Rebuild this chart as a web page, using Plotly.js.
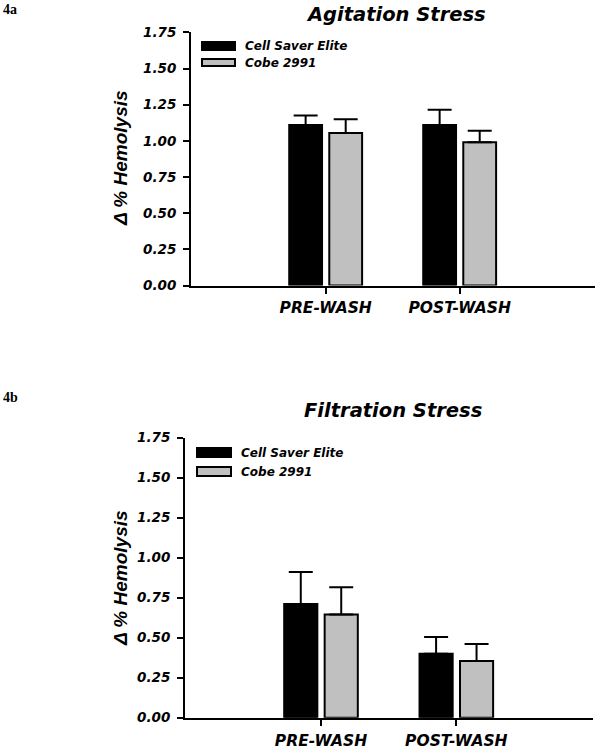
<!DOCTYPE html>
<html>
<head>
<meta charset="utf-8">
<script src="https://cdn.plot.ly/plotly-3.0.1.min.js"></script>
<style>html,body{margin:0;padding:0;background:#fff;}#chart{width:597px;height:750px;}</style>
</head>
<body>
<div id="chart"></div>
<script>
// ---- data ----
const categories = ['PRE-WASH', 'POST-WASH'];
const seriesNames = ['Cell Saver Elite', 'Cobe 2991'];
const panelLabels = ['4a', '4b'];
const panelTitles = ['Agitation Stress', 'Filtration Stress'];
const yAxisTitle = '\u0394 % Hemolysis';
const yTickValues = [0, 0.25, 0.5, 0.75, 1.0, 1.25, 1.5, 1.75];

const agitationCSE = [1.11, 1.11];
const agitationCSEErr = [0.065, 0.105];
const agitationCobe = [1.055, 0.99];
const agitationCobeErr = [0.095, 0.08];

const filtrationCSE = [0.71, 0.40];
const filtrationCSEErr = [0.20, 0.105];
const filtrationCobe = [0.645, 0.355];
const filtrationCobeErr = [0.17, 0.105];

// ---- style ----
const W = 597, H = 750;
const px = x => x / W;
const py = y => 1 - y / H;
const colors = ['#000000', '#c0c0c0'];
const sansB = {family: 'DejaVu Sans', weight: 'bold', style: 'italic', color: '#000'};
const font = (size, base) => Object.assign({}, base || sansB, {size: size});

function barTrace(vals, errs, idx, xa, ya) {
  return {
    type: 'bar', x: categories, y: vals, name: seriesNames[idx],
    xaxis: xa, yaxis: ya, showlegend: false,
    width: 0.245, offset: idx === 0 ? -0.272 : 0.027,
    marker: {color: colors[idx], line: {color: '#000', width: 2}},
    error_y: {type: 'data', symmetric: false, array: errs, arrayminus: errs.map(() => 0),
              color: '#000', thickness: 2, width: 12},
    hoverinfo: 'skip'
  };
}

const data = [
  barTrace(agitationCSE, agitationCSEErr, 0, 'x', 'y'),
  barTrace(agitationCobe, agitationCobeErr, 1, 'x', 'y'),
  barTrace(filtrationCSE, filtrationCSEErr, 0, 'x2', 'y2'),
  barTrace(filtrationCobe, filtrationCobeErr, 1, 'x2', 'y2')
];

function xAxis(domain, anchor, standoff) {
  return {
    domain: domain, anchor: anchor, type: 'category', range: [-1.005, 2.01],
    showline: true, linecolor: '#000', linewidth: 2, showgrid: false, zeroline: false,
    ticks: 'outside', ticklen: 6, tickwidth: 2, tickcolor: '#000',
    tickfont: font(15.5), ticklabelstandoff: standoff, fixedrange: true
  };
}
function yAxis(domain, anchor) {
  return {
    domain: domain, anchor: anchor, range: [0, 1.75],
    tickvals: yTickValues, tickformat: '.2f',
    showline: true, linecolor: '#000', linewidth: 2, showgrid: false, zeroline: false,
    ticks: 'outside', ticklen: 6, tickwidth: 2, tickcolor: '#000',
    tickfont: font(13.5), ticklabelstandoff: 4, fixedrange: true
  };
}

const annotations = [];
const shapes = [];
function panelDecor(p, labelY, titleX, titleY, yTitleX, yTitleY, legX0, legX1, legRows, legTextX) {
  annotations.push({xref: 'paper', yref: 'paper', x: px(1), y: py(labelY), xanchor: 'left', yanchor: 'middle',
    text: panelLabels[p], showarrow: false, font: {family: 'Liberation Serif', size: 14, weight: 'bold', color: '#000'}});
  annotations.push({xref: 'paper', yref: 'paper', x: px(titleX), y: py(titleY), xanchor: 'center', yanchor: 'middle',
    text: panelTitles[p], showarrow: false, font: font(19.5)});
  annotations.push({xref: 'paper', yref: 'paper', x: px(yTitleX), y: py(yTitleY), xanchor: 'center', yanchor: 'middle',
    textangle: -90, text: yAxisTitle, showarrow: false,
    font: {family: 'Liberation Sans', size: 19, weight: 'bold', style: 'italic', color: '#000'}});
  legRows.forEach((r, i) => {
    shapes.push({type: 'rect', xref: 'paper', yref: 'paper', x0: px(legX0), x1: px(legX1), y0: py(r[0]), y1: py(r[1]),
      fillcolor: colors[i], line: {color: '#000', width: 2}});
    annotations.push({xref: 'paper', yref: 'paper', x: px(legTextX), y: py((r[0] + r[1]) / 2), xanchor: 'left', yanchor: 'middle',
      text: seriesNames[i], showarrow: false, font: font(12)});
  });
}
panelDecor(0, 9, 396, 14, 120, 158, 202, 235, [[42, 50], [59, 66]], 243);
panelDecor(1, 397, 393, 410, 120, 578, 197, 231, [[448, 457], [467, 476]], 239);

const layout = {
  width: W, height: H, margin: {l: 0, r: 0, t: 0, b: 0},
  paper_bgcolor: '#fff', plot_bgcolor: '#fff', barmode: 'overlay', showlegend: false,
  xaxis: xAxis([px(191), px(595)], 'y', 1),
  yaxis: yAxis([py(285.5), py(32.4)], 'x'),
  xaxis2: xAxis([px(185), px(593)], 'y2', 2),
  yaxis2: yAxis([py(717.7), py(437.7)], 'x2'),
  annotations: annotations, shapes: shapes
};

Plotly.newPlot('chart', data, layout, {displayModeBar: false, staticPlot: true});
</script>
</body>
</html>
